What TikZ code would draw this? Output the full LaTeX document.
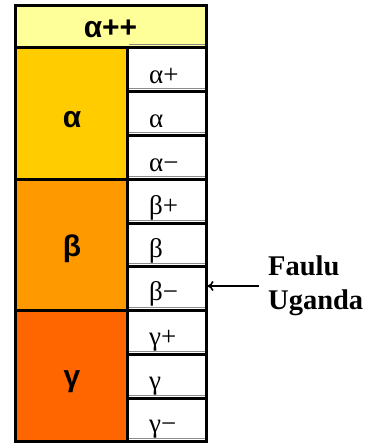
\documentclass[tikz,border=0pt]{standalone}
\usepackage{fontspec}
\usetikzlibrary{arrows.meta}
\setmainfont{Liberation Serif}
\newfontfamily\sansf{Liberation Sans}
\begin{document}
\begin{tikzpicture}[x=1pt,y=-1pt,
  blk/.style={draw=black,line width=3pt},
  shade/.style={draw=black!45,line width=1.3pt},
  bigl/.style={font=\sansf\bfseries\fontsize{30}{36}\selectfont,inner sep=0pt,anchor=base},
  smalll/.style={font=\fontsize{27}{32}\selectfont,inner sep=0pt,anchor=base west},
  sidel/.style={font=\bfseries\fontsize{28.5}{34}\selectfont,inner sep=0pt,anchor=base west}]
\useasboundingbox (0,0) rectangle (368,445);
\definecolor{hdr}{HTML}{FFFF99}
\definecolor{ca}{HTML}{FFCC00}
\definecolor{cb}{HTML}{FF9900}
\definecolor{cg}{HTML}{FF6600}
% fills
\fill[hdr] (15,5) rectangle (206,47);
\fill[ca] (15,47) rectangle (127,179);
\fill[cb] (15,179) rectangle (127,310);
\fill[cg] (15,310) rectangle (127,441);
\fill[white] (127,47) rectangle (206,441);
% gray shade lines
\foreach \yb in {47,91,135,179,223,266,310,354,398,441}
  \draw[shade] (128.5,\yb-2.3) -- (204.5,\yb-2.3);
% cells as named nodes
\node[blk,minimum width=191,minimum height=42,inner sep=0] (hd) at (110.5,26) {};
\node[blk,minimum width=112,minimum height=132,inner sep=0] (A) at (71,113) {};
\node[blk,minimum width=112,minimum height=131,inner sep=0] (B) at (71,244.5) {};
\node[blk,minimum width=112,minimum height=131,inner sep=0] (G) at (71,375.5) {};
\foreach \n/\t/\b in {a1/47/91,a2/91/135,a3/135/179,b1/179/223,b2/223/266,b3/266/310,g1/310/354,g2/354/398,g3/398/441}
  \node[blk,minimum width=79,minimum height=\b-\t,inner sep=0] (\n) at (166.5,{(\t+\b)/2}) {};
% labels
\node[bigl] (thd) at (110.5,37) {α++};
\node[bigl] (tA) at (72,127) {α};
\node[bigl] (tB) at (72,256) {β};
\node[bigl] (tG) at (72,386) {γ};
\node[smalll] (ta1) at (149,83) {α+};
\node[smalll] (ta2) at (149,127) {α};
\node[smalll] (ta3) at (149,171) {α−};
\node[smalll] (tb1) at (149,214) {β+};
\node[smalll] (tb2) at (149,257) {β};
\node[smalll] (tb3) at (149,300) {β−};
\node[smalll] (tg1) at (149,345) {γ+};
\node[smalll] (tg2) at (149,389) {γ};
\node[smalll] (tg3) at (149,432) {γ−};
\node[sidel] (f1) at (268,275) {Faulu};
\node[sidel] (f2) at (268,309) {Uganda};
\coordinate (as) at (259,286);
\draw[line width=1.6pt,-{To[length=6pt,width=10pt]}] (as) -- (b3.east|-as);
\end{tikzpicture}
\end{document}
